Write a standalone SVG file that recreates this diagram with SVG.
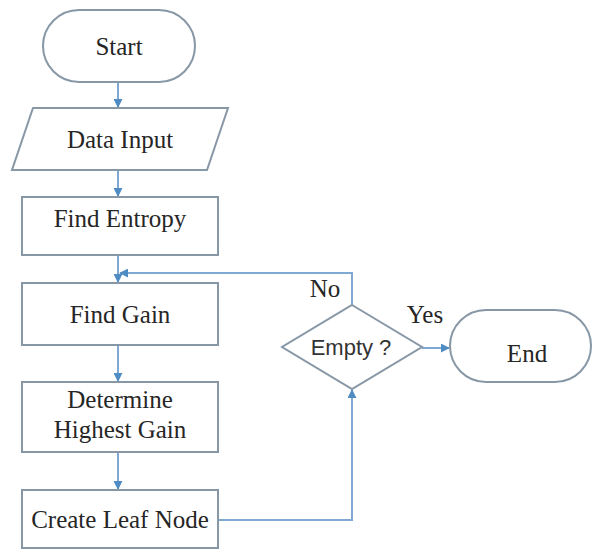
<svg xmlns="http://www.w3.org/2000/svg" width="593" height="551" viewBox="0 0 593 551">
<style>
.shape{fill:#fff;stroke:#8797a6;stroke-width:2}
.lbl{font-family:"Liberation Serif","Times New Roman",serif;font-size:25px;fill:#262626;text-anchor:middle}
.sans{font-family:"Liberation Sans",Arial,sans-serif;font-size:22px;fill:#333;text-anchor:middle}
.conn{fill:none;stroke:#7fa9d2;stroke-width:2}
</style>
<defs>
<marker id="arr" viewBox="0 0 10 10" refX="9" refY="5" markerWidth="4.5" markerHeight="4.5" orient="auto">
<path d="M0,0 L10,5 L0,10 z" fill="#4f8cc4"/>
</marker>
</defs>
<rect width="593" height="551" fill="#fff"/>
<g id="connectors">
<line class="conn" x1="118" y1="82" x2="118" y2="107" marker-end="url(#arr)"/>
<line class="conn" x1="118" y1="170" x2="118" y2="196" marker-end="url(#arr)"/>
<line class="conn" x1="118" y1="255" x2="118" y2="282" marker-end="url(#arr)"/>
<polyline class="conn" points="352,305 352,273 120,273" marker-end="url(#arr)"/>
<line class="conn" x1="118" y1="345" x2="118" y2="381" marker-end="url(#arr)"/>
<line class="conn" x1="118" y1="452" x2="118" y2="489" marker-end="url(#arr)"/>
<polyline class="conn" points="218,520 352,520 352,390" marker-end="url(#arr)"/>
<line class="conn" x1="422" y1="348" x2="449" y2="348" marker-end="url(#arr)"/>
</g>
<g id="start">
<rect class="shape" x="43" y="10" width="152" height="72" rx="36"/>
<text class="lbl" x="119" y="55">Start</text>
</g>
<g id="data-input">
<polygon class="shape" points="33,108 228,108 207,170 12,170"/>
<text class="lbl" x="120" y="148">Data Input</text>
</g>
<g id="find-entropy">
<rect class="shape" x="22" y="197" width="196" height="58"/>
<text class="lbl" x="120" y="227">Find Entropy</text>
</g>
<g id="find-gain">
<rect class="shape" x="22" y="283" width="196" height="62"/>
<text class="lbl" x="120" y="323">Find Gain</text>
</g>
<g id="determine">
<rect class="shape" x="22" y="382" width="196" height="70"/>
<text class="lbl" x="120" y="408">Determine</text>
<text class="lbl" x="120" y="438">Highest Gain</text>
</g>
<g id="create-leaf">
<rect class="shape" x="22" y="490" width="196" height="58"/>
<text class="lbl" x="120" y="528">Create Leaf Node</text>
</g>
<g id="empty">
<polygon class="shape" points="352,305 422,347 352,389 282,347"/>
<text class="sans" x="351" y="355">Empty ?</text>
</g>
<g id="end">
<rect class="shape" x="450" y="310" width="141" height="72" rx="36"/>
<text class="lbl" x="527" y="362">End</text>
</g>
<text class="lbl" x="325" y="297">No</text>
<text class="lbl" x="425" y="323">Yes</text>
</svg>
